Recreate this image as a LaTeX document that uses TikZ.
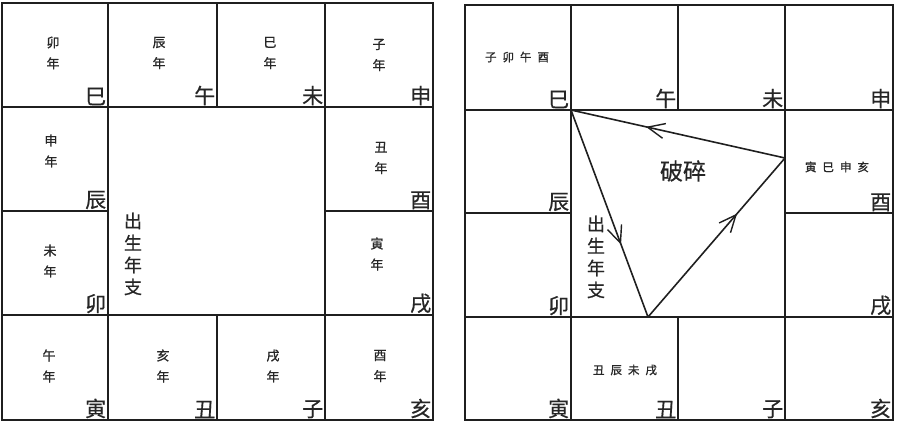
\documentclass[tikz,border=0pt]{standalone}
\usepackage{fontspec}
\newfontfamily\cjk{Noto Sans CJK SC}
\newfontfamily\cjkm[FakeBold=0.6]{Noto Sans CJK SC}
\newfontfamily\cjkb[FakeBold=1.0]{Noto Sans CJK SC}
\usetikzlibrary{decorations.markings,arrows.meta}
\begin{document}
\begin{tikzpicture}[x=1pt,y=-1pt,
  gridline/.style={line width=1.8pt, draw=black!88},
  branch/.style={font=\cjkm\fontsize{21}{21}\selectfont, anchor=south east, inner sep=1.6pt, text=black!85},
  smalltext/.style={font=\cjkb\fontsize{13}{21}\selectfont, align=center, inner sep=0pt, text=black!85},
  rowtext/.style={font=\cjkb\fontsize{11.5}{12}\selectfont, inner sep=0pt, text=black!85},
  birth/.style={font=\cjkm\fontsize{18}{22}\selectfont, align=center, inner sep=0pt, text=black!85},
  bigtext/.style={font=\cjkm\fontsize{23}{23}\selectfont, inner sep=0pt, text=black!85},
  flow/.style={line width=1.6pt, draw=black!88, postaction={decorate},
    decoration={markings, mark=at position 0.65 with {\arrow[line width=1.4pt]{Straight Barb[length=17pt,width=15pt]}}}}
]
\useasboundingbox (0,0) rectangle (898,423);
% ---------- left grid ----------
\draw[gridline] (2,3) rectangle (433,420);
\draw[gridline] (2,107) -- (433,107);
\draw[gridline] (2,315) -- (433,315);
\draw[gridline] (2,211) -- (108,211);
\draw[gridline] (325,211) -- (433,211);
\draw[gridline] (108,3) -- (108,420);
\draw[gridline] (325,3) -- (325,420);
\draw[gridline] (217,3) -- (217,107);
\draw[gridline] (217,315) -- (217,420);
\foreach \x/\y/\t [count=\i] in {108/107/巳,217/107/午,325/107/未,433/107/申,108/211/辰,433/211/酉,108/315/卯,433/315/戌,108/420/寅,217/420/丑,325/420/子,433/420/亥}
  \node[branch] (Lb\i) at (\x,\y) {\t};
\foreach \x/\y/\t [count=\i] in {53/53/卯,159/53/辰,270/53/巳,379/55/子,51/151/申,381/158/丑,50/261/未,377/254/寅,49/366/午,163/366/亥,273/366/戌,380/366/酉}
  \node[smalltext] (Ls\i) at (\x,\y) {\t\\年};
\node[birth] (Lbirth) at (133,254) {出\\生\\年\\支};
% ---------- right grid ----------
\draw[gridline] (465,5) rectangle (893,420);
\draw[gridline] (465,110) -- (893,110);
\draw[gridline] (465,317) -- (893,317);
\draw[gridline] (465,213) -- (571,213);
\draw[gridline] (785,213) -- (893,213);
\draw[gridline] (571,5) -- (571,420);
\draw[gridline] (785,5) -- (785,420);
\draw[gridline] (678,5) -- (678,110);
\draw[gridline] (678,317) -- (678,420);
\foreach \x/\y/\t [count=\i] in {571/110/巳,678/110/午,785/110/未,893/110/申,571/213/辰,893/213/酉,571/317/卯,893/317/戌,571/420/寅,678/420/丑,785/420/子,893/420/亥}
  \node[branch] (Rb\i) at (\x,\y) {\t};
\node[rowtext] (Rs1) at (517,57) {子\hspace{6pt}卯\hspace{6pt}午\hspace{6pt}酉};
\node[rowtext] (Rs2) at (837,167) {寅\hspace{6pt}巳\hspace{6pt}申\hspace{6pt}亥};
\node[rowtext] (Rs3) at (625,370) {丑\hspace{6pt}辰\hspace{6pt}未\hspace{6pt}戌};
\node[birth] (Rbirth) at (596,257) {出\\生\\年\\支};
\node[bigtext] (po) at (683,171) {破碎};
\coordinate (A) at (571,110);
\coordinate (B) at (648,317);
\coordinate (C) at (785,158);
\draw[flow] (A) -- (B);
\draw[flow] (B) -- (C);
\draw[flow] (C) -- (A);
\end{tikzpicture}
\end{document}
